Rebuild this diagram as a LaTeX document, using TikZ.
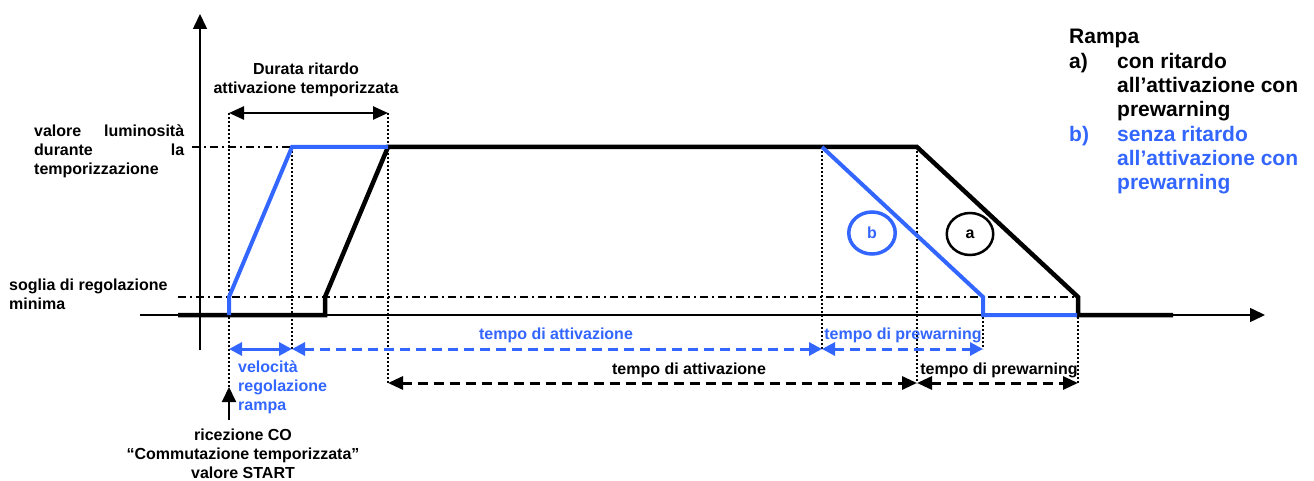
\documentclass[tikz,border=0pt]{standalone}
\usepackage{fontspec}
\setmainfont{Liberation Sans}
\usetikzlibrary{arrows.meta,shapes.geometric}
\definecolor{rblue}{RGB}{51,102,255}
\tikzset{
  axisline/.style={line width=1.5pt, -{Triangle[length=15pt,width=14pt]}},
  curvea/.style={line width=4.5pt, black},
  curveb/.style={line width=4pt, rblue},
  dotv/.style={line width=2.3pt, dash pattern=on 2pt off 2pt},
  dashdot/.style={line width=1.5pt, dash pattern=on 8pt off 4pt on 2pt off 4pt},
  dimblk/.style={line width=2.5pt, {Triangle[length=15pt,width=13pt]}-{Triangle[length=15pt,width=13pt]}},
  dimblue/.style={line width=3pt, rblue, {Triangle[length=13pt,width=13pt]}-{Triangle[length=13pt,width=13pt]}},
  dashedline/.style={dash pattern=on 10pt off 6pt},
  lbl/.style={font=\fontsize{16}{19}\selectfont\bfseries, inner sep=0pt},
  leg/.style={font=\fontsize{21}{24.3}\selectfont\bfseries, inner sep=0pt},
  circlbl/.style={ellipse, minimum width=46.5pt, minimum height=42pt, inner sep=0pt, font=\fontsize{16}{19}\selectfont\bfseries},
}
\begin{document}
\begin{tikzpicture}[x=1pt,y=-1pt]
\useasboundingbox (0,0) rectangle (1314,481);
% axes
\coordinate (ybot) at (200,350);
\coordinate (ytop) at (200,14);
\coordinate (xlft) at (140,315);
\coordinate (xrgt) at (1265,315);
% guide levels
\coordinate (hl1) at (192,147); \coordinate (hl2) at (292,147);
\coordinate (th1) at (178,297); \coordinate (th2) at (1078,297);
% dotted verticals
\coordinate (v1t) at (229,113); \coordinate (v1b) at (229,387);
\coordinate (v2t) at (292,147); \coordinate (v2b) at (292,349);
\coordinate (v3t) at (388,113); \coordinate (v3b) at (388,383);
\coordinate (v4t) at (822,147); \coordinate (v4b) at (822,349);
\coordinate (v5t) at (917,147); \coordinate (v5b) at (917,383);
\coordinate (v6t) at (983,297); \coordinate (v6b) at (983,349);
\coordinate (v7t) at (1078,297); \coordinate (v7b) at (1078,383);
\coordinate (bd1) at (229,349);
\coordinate (ua0) at (229,420);
% curve a (black)
\coordinate (a0) at (178,315); \coordinate (a1) at (325,315);
\coordinate (a2) at (325,297); \coordinate (a3) at (388,147);
\coordinate (a4) at (917,147); \coordinate (a5) at (1078,297);
\coordinate (a6) at (1078,315); \coordinate (a7) at (1173,315);
% curve b (blue)
\coordinate (b0) at (229,315); \coordinate (b1) at (229,297);
\coordinate (b2) at (292,147); \coordinate (b3) at (388,147);
\coordinate (b4) at (822,147); \coordinate (b5) at (983,297);
\coordinate (b6) at (983,315); \coordinate (b7) at (1077,315);

\draw[axisline] (ybot) -- (ytop);
\draw[axisline] (xlft) -- (xrgt);

\draw[dashdot] (hl1) -- (hl2);
\draw[dashdot] (th1) -- (th2);

\foreach \i in {1,...,7} {\draw[dotv] (v\i t) -- (v\i b);}

\draw[curvea] (a0) -- (a1) -- (a2) -- (a3) -- (a4) -- (a5) -- (a6) -- (a7);
\draw[curveb] (b0) -- (b1) -- (b2) -- (b3);
\draw[curveb] (b4) -- (b5) -- (b6) -- (b7);

% dimension arrows
\draw[dimblk] (v1t) -- (v3t);
\draw[dimblue] (bd1) -- (v2b);
\draw[dimblue, dashedline] (v2b) -- (v4b);
\draw[dimblue, dashedline] (v4b) -- (v6b);
\draw[dimblk, line width=3pt, dashedline] (v3b) -- (v5b);
\draw[dimblk, line width=3pt, dashedline] (v5b) -- (v7b);
\draw[line width=2pt, -{Triangle[length=15pt,width=14pt]}] (ua0) -- (v1b);

% circles
\node[circlbl, draw=rblue, line width=3.5pt, text=rblue] (cb) at (872,233) {b};
\node[circlbl, draw=black, line width=2.5pt] (ca) at (970,234) {a};

% labels (multi-line nodes: base = baseline of last line)
\node[lbl, anchor=base, align=center] (durata) at (306,93.5) {Durata ritardo\\attivazione temporizzata};
\node[lbl, anchor=base west, align=left] (lumin) at (34,174.5) {\makebox[150pt][s]{valore luminosità}\\\makebox[150pt][s]{durante la}\\temporizzazione};
\node[lbl, anchor=base west, align=left] (soglia) at (9,309.5) {soglia di regolazione\\minima};
\node[lbl, anchor=base west, align=left, text=rblue] (veloc) at (238,410.5) {velocità\\regolazione\\rampa};
\node[lbl, anchor=base, align=center] (ricez) at (243,478.5) {ricezione CO\\“Commutazione temporizzata”\\valore START};
\node[lbl, anchor=base, text=rblue] (tattb) at (556,339.5) {tempo di attivazione};
\node[lbl, anchor=base, text=rblue] (tpreb) at (903,339.5) {tempo di prewarning};
\node[lbl, anchor=base] (tatta) at (689,374.5) {tempo di attivazione};
\node[lbl, anchor=base] (tprea) at (999,374.5) {tempo di prewarning};

% legend
\node[leg, anchor=base west] (rampa) at (1069,44) {Rampa};
\node[leg, anchor=base west] (lga) at (1069,68.3) {a)};
\node[leg, anchor=base west, align=left] (lgat) at (1117,116.9) {con ritardo\\all’attivazione con\\prewarning};
\node[leg, anchor=base west, text=rblue] (lgb) at (1069,141.2) {b)};
\node[leg, anchor=base west, align=left, text=rblue] (lgbt) at (1117,189.8) {senza ritardo\\all’attivazione con\\prewarning};
\end{tikzpicture}
\end{document}
